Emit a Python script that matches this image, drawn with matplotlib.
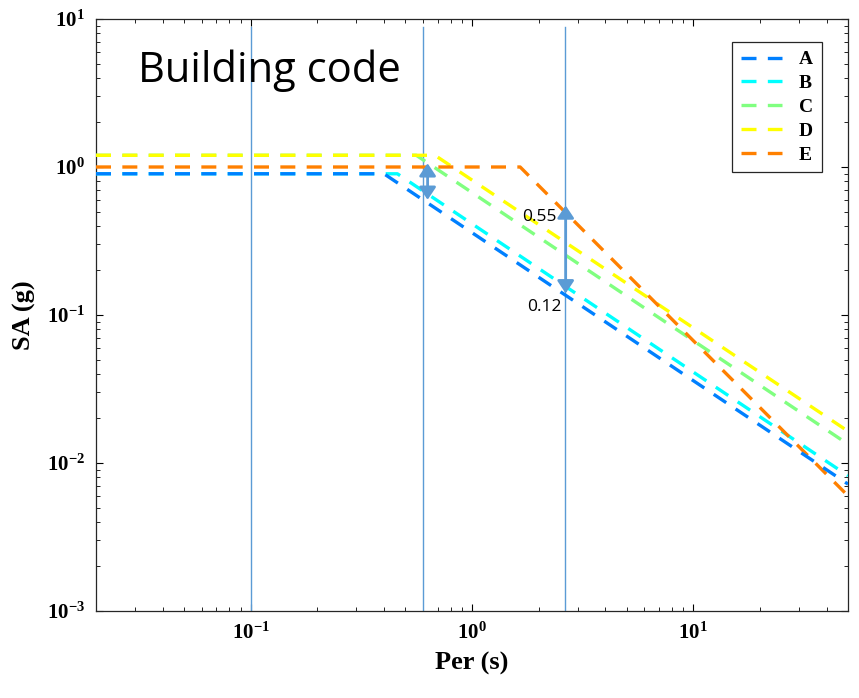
import matplotlib.pyplot as plt
import numpy as np

# spectrum breakpoints (log-log straight segments)
site_classes = ["A", "B", "C", "D", "E"]
period_start = 0.02
period_end = 50.0
corner_periods = [0.40, 0.46, 0.56, 0.68, 1.65]
plateau_sa = [0.9, 0.9, 1.2, 1.2, 1.0]
end_sa = [0.0072, 0.0082, 0.0134, 0.0164, 0.0060]
class_colors = ["#0080FF", "#00FFFF", "#80FF80", "#FFFF00", "#FF8000"]

marker_periods = [0.1, 0.6, 2.63]
arrow_periods = [0.63, 2.65]
arrow_low = [0.60, 0.14]
arrow_high = [1.06, 0.55]

line_blue = "#5B9BD5"
serif = "Liberation Serif"

plt.rcParams["mathtext.fontset"] = "custom"
plt.rcParams["mathtext.rm"] = serif + ":bold"

fig = plt.figure(figsize=(8.59, 6.98), dpi=100)
ax = fig.add_axes([96 / 859, 1 - 611 / 698, 752 / 859, 592 / 698])

zorders = [4, 3, 3, 3, 3]
for name, tc, sa0, sa1, color, z in zip(
    site_classes, corner_periods, plateau_sa, end_sa, class_colors, zorders
):
    ax.plot(
        [period_start, tc, period_end],
        [sa0, sa0, sa1],
        color=color,
        lw=2.4,
        dashes=(4.5, 3.4),
        label=name,
        zorder=z,
    )

for t in marker_periods:
    ax.axvline(t, ymin=0, ymax=0.9865, color=line_blue, lw=1.0, zorder=2)

for t, lo, hi in zip(arrow_periods, arrow_low, arrow_high):
    ax.annotate(
        "",
        xy=(t, hi),
        xytext=(t, lo),
        arrowprops=dict(
            arrowstyle="<|-|>,head_length=0.75,head_width=0.5",
            color=line_blue,
            lw=2.0,
            shrinkA=0,
            shrinkB=0,
        ),
        zorder=5,
    )

ax.text(2.4, 0.46, "0.55", ha="right", va="center", fontsize=12.5,
        family="Open Sans", zorder=6)
ax.text(2.12, 0.113, "0.12", ha="center", va="center", fontsize=12.5,
        family="Open Sans", zorder=6)
ax.text(0.056, 0.894, "Building code", transform=ax.transAxes, fontsize=30,
        family="Open Sans", va="baseline", ha="left")

ax.set_xscale("log")
ax.set_yscale("log")
ax.set_xlim(period_start, period_end)
ax.set_ylim(1e-3, 1e1)

ax.tick_params(which="both", direction="in", top=True, right=True)
ax.tick_params(which="major", length=5, labelsize=15, pad=8)
ax.tick_params(which="minor", length=3)
for lab in ax.get_xticklabels() + ax.get_yticklabels():
    lab.set_family(serif)
    lab.set_fontweight("bold")
for spine in ax.spines.values():
    spine.set_linewidth(0.9)
    spine.set_color("#262626")

ax.set_xlabel("Per (s)", family=serif, fontweight="bold", fontsize=19, labelpad=6)
ax.set_ylabel("SA (g)", family=serif, fontweight="bold", fontsize=19, labelpad=8)

leg = ax.legend(
    loc="upper right",
    bbox_to_anchor=(822 / 859, 1 - 42 / 698),
    bbox_transform=fig.transFigure,
    borderaxespad=0,
    fancybox=False,
    edgecolor="#262626",
    framealpha=1,
    prop={"family": serif, "weight": "bold", "size": 14},
    handlelength=2.1,
    handletextpad=0.9,
    labelspacing=0.32,
    borderpad=0.45,
)
leg.get_frame().set_linewidth(0.9)

fig.savefig("out.png", dpi=100)
